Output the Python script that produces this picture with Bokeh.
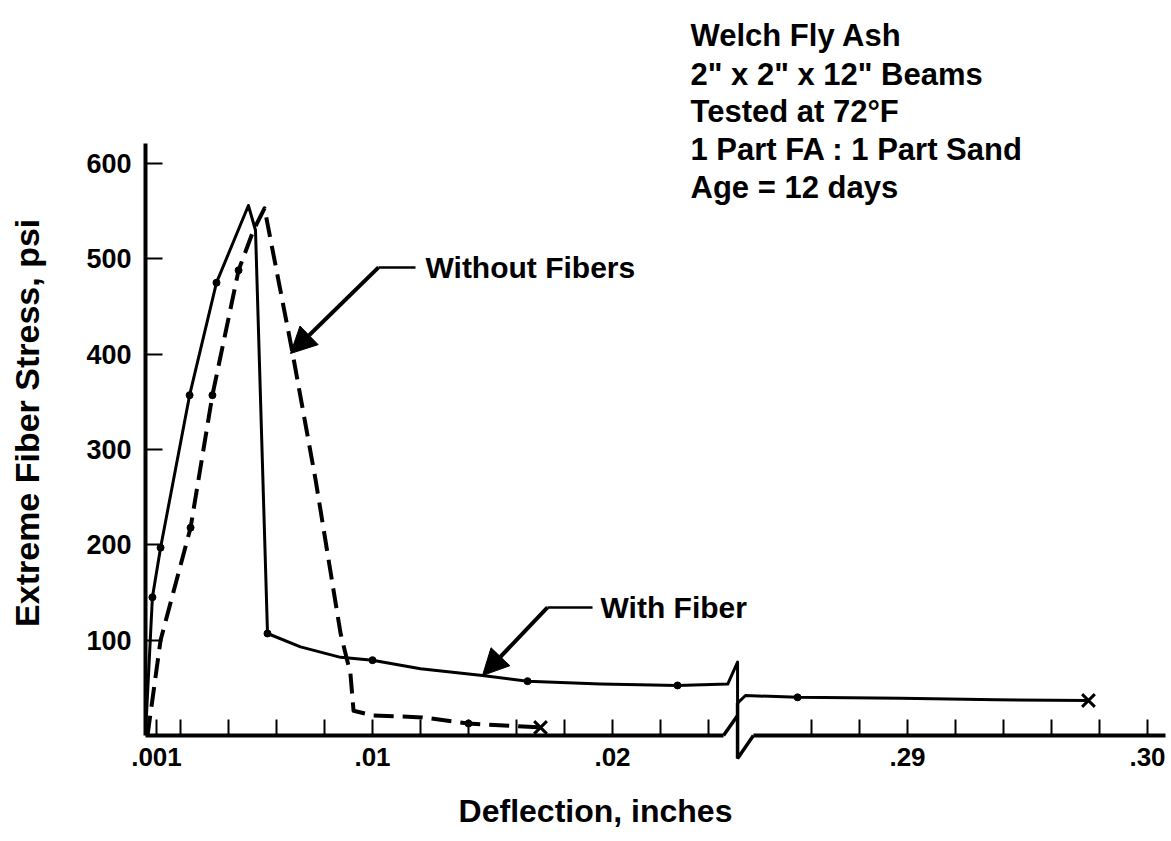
from math import pi

from bokeh.core.properties import value
from bokeh.embed import file_html
from bokeh.models import (Arrow, CustomJSTickFormatter, FixedTicker, NormalHead,
                          Range1d)
from bokeh.plotting import figure
from bokeh.resources import INLINE

# ---------------------------------------------------------------------------
# Flexural test data: deflection (inches) vs extreme fiber stress (psi)
# ---------------------------------------------------------------------------
with_fiber_defl = [0.00054, 0.00083, 0.00117, 0.00238, 0.0035, 0.00483, 0.005125,
                   0.005625, 0.0070, 0.00867, 0.0100, 0.0120, 0.01458, 0.01646,
                   0.0195, 0.02271, 0.0248, 0.02521,
                   0.28292, 0.28325, 0.28542, 0.2897, 0.2937, 0.29754]
with_fiber_stress = [0, 145, 197, 357, 475, 556, 530,
                     107, 93, 82, 79, 70, 63, 57,
                     54, 52.5, 54, 77,
                     34, 42, 40, 39, 37.5, 36.7]

with_fiber_pts_defl = [0.00083, 0.00117, 0.00238, 0.0035, 0.005625, 0.0100,
                       0.01646, 0.02271, 0.28542]
with_fiber_pts_stress = [145, 197, 357, 475, 107, 79, 57, 52.5, 40]

without_fiber_defl = [0.000625, 0.00117, 0.00242, 0.00333, 0.00442, 0.00504,
                      0.0055, 0.00667, 0.00763, 0.00867, 0.00908, 0.00921,
                      0.01004, 0.01208, 0.014, 0.017]
without_fiber_stress = [0, 100, 218, 357, 488, 530,
                        553, 401, 268, 107, 65, 26,
                        21, 19, 12.6, 8.4]

without_fiber_pts_defl = [0.00242, 0.00333, 0.00442, 0.014]
without_fiber_pts_stress = [218, 357, 488, 12.6]

failure_defl = [0.017, 0.29754]
failure_stress = [8.4, 36.7]

x_tick_defl = [0.001, 0.002, 0.004, 0.006, 0.008, 0.010, 0.012, 0.014, 0.016,
               0.018, 0.020, 0.022, 0.024,
               0.286, 0.288, 0.290, 0.292, 0.294, 0.296, 0.298, 0.300]
x_tick_text = {0.001: ".001", 0.010: ".01", 0.020: ".02", 0.290: ".29", 0.300: ".30"}
y_ticks = [100, 200, 300, 400, 500, 600]

notes = ["Welch Fly Ash", '2" x 2" x 12" Beams', "Tested at 72\u00b0F",
         "1 Part FA : 1 Part Sand", "Age = 12 days"]

# ---------------------------------------------------------------------------
# Broken deflection axis: the span between BREAK_START and BREAK_END is cut out
# ---------------------------------------------------------------------------
BREAK_START = 0.02521
BREAK_END = 0.28292
GAP = BREAK_END - BREAK_START


def axis_pos(d):
    return d if d < BREAK_START + 1e-6 else d - GAP


def to_axis(values):
    return [axis_pos(v) for v in values]


FONT = "Liberation Sans"
X_MIN, X_MAX = 0.000542, 0.30075

p = figure(width=1171, height=841,
           x_range=Range1d(axis_pos(X_MIN), axis_pos(X_MAX)),
           y_range=Range1d(0, 621),
           output_backend="svg", toolbar_location=None,
           min_border_left=145, min_border_right=6,
           min_border_top=143, min_border_bottom=106)
p.outline_line_color = None
p.grid.visible = False
p.background_fill_color = "white"
p.border_fill_color = "white"

# x axis: ticks only, the base line with its break is drawn below
tick_pos = to_axis(x_tick_defl)
tick_lab = [x_tick_text.get(round(d, 3), "") for d in x_tick_defl]
p.xaxis.ticker = FixedTicker(ticks=tick_pos, minor_ticks=[])
p.xaxis.formatter = CustomJSTickFormatter(
    args=dict(pos=tick_pos, lab=tick_lab),
    code="""
        for (let i = 0; i < pos.length; i++) {
            if (Math.abs(tick - pos[i]) < 1e-7) return lab[i]
        }
        return ""
    """)
p.xaxis.axis_line_color = None
p.xaxis.major_tick_in = 16
p.xaxis.major_tick_out = 0
p.xaxis.major_tick_line_width = 2
p.xaxis.minor_tick_line_color = None
p.xaxis.major_label_standoff = 12
p.xaxis.major_label_text_font = FONT
p.xaxis.major_label_text_font_size = "26px"
p.xaxis.major_label_text_font_style = "bold"
p.xaxis.major_label_text_color = "black"

p.yaxis.ticker = FixedTicker(ticks=y_ticks, minor_ticks=[])
p.yaxis.axis_line_width = 4
p.yaxis.axis_line_color = "black"
p.yaxis.major_tick_in = 17
p.yaxis.major_tick_out = 0
p.yaxis.major_tick_line_width = 2
p.yaxis.minor_tick_line_color = None
p.yaxis.major_label_standoff = 14
p.yaxis.major_label_text_font = FONT
p.yaxis.major_label_text_font_size = "27px"
p.yaxis.major_label_text_font_style = "bold"
p.yaxis.major_label_text_color = "black"

# deflection axis base line with the zig-zag break mark
left_end = 0.024625
right_start = 0.28358
p.line(to_axis([X_MIN, left_end]), [0, 0], line_width=4, color="black", level="overlay")
p.line(to_axis([right_start, X_MAX]), [0, 0], line_width=4, color="black", level="overlay")
p.multi_line(xs=[to_axis([left_end, BREAK_START]),
                 to_axis([BREAK_START, BREAK_START, right_start])],
             ys=[[0, 21], [34, -24, 0]],
             line_width=3.5, color="black", level="overlay")

# curves
p.line(to_axis(with_fiber_defl), with_fiber_stress, line_width=3, color="black",
       line_join="round")
p.line(to_axis(without_fiber_defl), without_fiber_stress, line_width=4, color="black",
       line_dash="20 9", line_join="round")
p.scatter(to_axis(with_fiber_pts_defl), with_fiber_pts_stress, marker="circle",
          size=7, color="black")
p.scatter(to_axis(without_fiber_pts_defl), without_fiber_pts_stress, marker="circle",
          size=7, color="black")
p.scatter(to_axis(failure_defl), failure_stress, marker="x", size=18,
          line_width=3, color="black")


def draw_text(xs, ys, texts, size, align="left", baseline="middle", angle=0.0):
    p.text(x=xs, y=ys, text=texts, angle=angle,
           text_font=value(FONT), text_font_size=value(size),
           text_font_style="bold", text_color="black",
           text_align=align, text_baseline=baseline, level="overlay")


# call-outs
callouts = [
    # text, text anchor (defl, psi), elbow, arrow tip
    ("Without Fibers", (0.012208, 491), (0.01025, 0.011792, 491), (0.006583, 400.7)),
    ("With Fiber", (0.0195, 134.3), (0.017292, 0.019167, 134.3), (0.014583, 62.9)),
]
for text, (tx, ty), (ex, hx, ey), (ax, ay) in callouts:
    p.line(to_axis([ex, hx]), [ey, ey], line_width=2.5, color="black")
    p.add_layout(Arrow(end=NormalHead(size=26, fill_color="black", line_color="black"),
                       x_start=axis_pos(ex), y_start=ey,
                       x_end=axis_pos(ax), y_end=ay,
                       line_width=4, line_color="black"))
    draw_text([axis_pos(tx)], [ty], [text], "30px")

# test conditions block
note_baselines = [734.3, 693.4, 654.6, 614.7, 574.8]
draw_text([axis_pos(0.02325)] * len(notes), note_baselines, notes, "31px",
          baseline="alphabetic")

# axis titles
draw_text([axis_pos(0.019292)], [-78.7], ["Deflection, inches"], "32px",
          align="center")
draw_text([-0.004375], [328], ["Extreme Fiber Stress, psi"], "34px",
          align="center", angle=pi / 2)

open("out.html", "w").write(file_html(p, INLINE))
